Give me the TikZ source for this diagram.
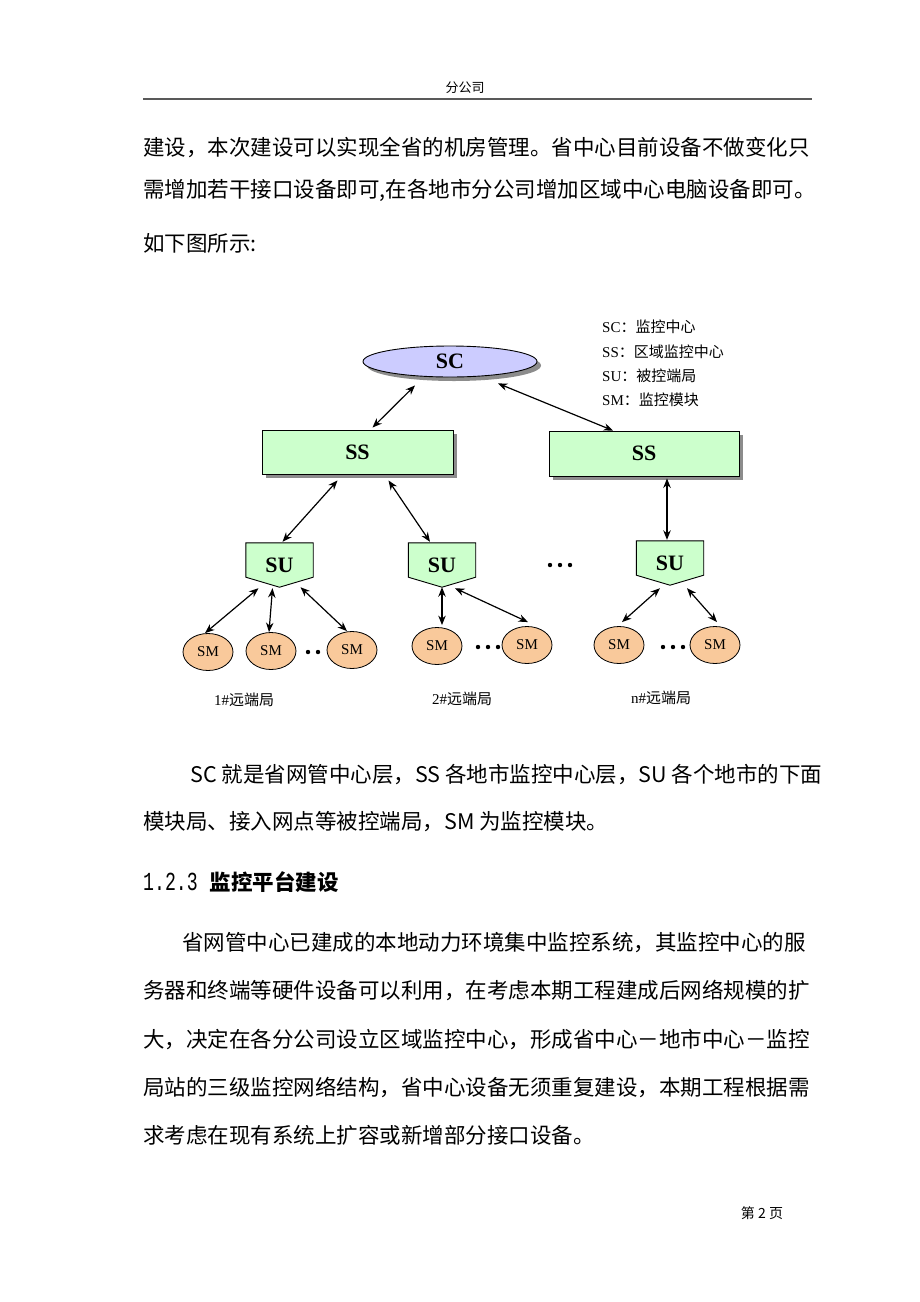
\documentclass[tikz,border=0pt]{standalone}
\usepackage{fontspec}
\setmainfont{Liberation Serif}
\newfontfamily\cjk{Noto Sans CJK SC}
\newfontfamily\monof{Liberation Mono}
\usepackage{xcolor}
\usetikzlibrary{shapes.geometric,shadows,arrows.meta,backgrounds}
\definecolor{scblue}{HTML}{CCCCFF}
\definecolor{ssgreen}{HTML}{CCFFCC}
\definecolor{smorange}{HTML}{F9C99B}
\definecolor{shadowgray}{HTML}{8C8C8C}
\tikzset{
	txt/.style={anchor=west,inner sep=0pt,font=\cjk\fontsize{21.5}{21.5}\selectfont},
	shade box/.style={drop shadow={shadow xshift=4pt,shadow yshift=-4pt,fill=shadowgray,opacity=1}},
	scnode/.style={ellipse,draw,line width=0.9pt,fill=scblue,inner sep=0pt,minimum width=174pt,minimum height=31pt,shade box,font=\fontsize{22}{22}\selectfont\bfseries},
	ssbox/.style={rectangle,draw,line width=0.9pt,fill=ssgreen,inner sep=0pt,minimum width=191pt,minimum height=44pt,shade box,font=\fontsize{22}{22}\selectfont\bfseries},
	sunode/.style={inner sep=0pt,minimum width=67pt,minimum height=44pt,font=\fontsize{22}{22}\selectfont\bfseries},
	smnode/.style={ellipse,draw,line width=0.8pt,fill=smorange,inner sep=0pt,minimum width=50pt,minimum height=37pt,font=\fontsize{15}{15}\selectfont},
	legend/.style={anchor=west,inner sep=0pt,font=\fontsize{15}{15}\selectfont},
	lbl/.style={inner sep=0pt,font=\fontsize{15}{15}\selectfont},
	link/.style={{Stealth[length=9.5pt,width=7.5pt]}-{Stealth[length=9.5pt,width=7.5pt]},line width=1.2pt}
}
\begin{document}
\begin{tikzpicture}[x=1pt,y=-1pt]
	\useasboundingbox (0,0) rectangle (920,1302);
	% page head
	\node[font=\cjk\fontsize{13}{13}\selectfont] (head) at (465,88) {分公司};
	\draw[line width=1.6pt,black!65] (143,99) -- (812,99);
	% text above the figure
	\node[txt] (l1) at (143,147) {建设，本次建设可以实现全省的机房管理。省中心目前设备不做变化只};
	\node[txt] (l2) at (143,190) {需增加若干接口设备即可,在各地市分公司增加区域中心电脑设备即可。};
	\node[txt] (l3) at (143,243) {如下图所示:};
	% legend
	\node[legend] (lg1) at (602,327) {SC{\cjk ：监控中心}};
	\node[legend] (lg2) at (602,352) {SS{\cjk ：区域监控中心}};
	\node[legend] (lg3) at (602,376) {SU{\cjk ：被控端局}};
	\node[legend] (lg4) at (602,400) {SM{\cjk ：监控模块}};
	% levels
	\node[scnode] (sc) at (450,361.5) {SC};
	\node[ssbox] (ssl) at (357.5,452) {SS};
	\node[ssbox,minimum width=190pt,minimum height=45pt] (ssr) at (644,453.5) {SS};
	\node[sunode] (sua) at (279.5,565) {SU};
	\node[sunode] (sub) at (442,565) {SU};
	\node[sunode] (suc) at (670,563) {SU};
	\begin{pgfonlayer}{background}
		\fill[white] (0,0) rectangle (920,1302);
		\foreach \n in {sua,sub,suc} {
			\fill[shadowgray,shift={(4pt,-4pt)}] (\n.north west) -- (\n.north east) -- ([yshift=10pt]\n.south east) -- (\n.south) -- ([yshift=10pt]\n.south west) -- cycle;
			\draw[line width=0.9pt,fill=ssgreen] (\n.north west) -- (\n.north east) -- ([yshift=10pt]\n.south east) -- (\n.south) -- ([yshift=10pt]\n.south west) -- cycle;
		}
	\end{pgfonlayer}
	\node[smnode] (sm1) at (208,652) {SM};
	\node[smnode] (sm2) at (271,651) {SM};
	\node[smnode] (sm3) at (352,650) {SM};
	\node[smnode] (sm4) at (437,646) {SM};
	\node[smnode] (sm5) at (527,645) {SM};
	\node[smnode] (sm6) at (619,645) {SM};
	\node[smnode] (sm7) at (715,645) {SM};
	\foreach \x in {308,318} \fill (\x,652) circle (2.2pt);
	\foreach \x in {478,488,498} \fill (\x,647) circle (2.2pt);
	\foreach \x in {663,673,683} \fill (\x,647) circle (2.2pt);
	\foreach \x in {550,560,570} \fill (\x,565) circle (2.2pt);
	% links
	\draw[link] ([xshift=-35pt,yshift=-8pt]sc.south) -- ([xshift=15pt,yshift=2pt]ssl.north);
	\draw[link] ([xshift=48pt,yshift=-6pt]sc.south) -- ([xshift=-31pt]ssr.north);
	\draw[link] ([xshift=-20pt,yshift=-6pt]ssl.south) -- ([xshift=3pt,yshift=1pt]sua.north);
	\draw[link] ([xshift=31pt,yshift=-6pt]ssl.south) -- ([xshift=-12pt,yshift=1pt]sub.north);
	\draw[link] ([xshift=23pt,yshift=-2pt]ssr.south) -- ([xshift=-3pt,yshift=1pt]suc.north);
	\draw[link] ([xshift=-21pt,yshift=-1pt]sua.south) -- ([xshift=-3pt]sm1.north);
	\draw[link] ([xshift=-7pt,yshift=-1pt]sua.south) -- ([xshift=-2pt]sm2.north);
	\draw[link] ([xshift=21pt]sua.south) -- ([xshift=-5pt]sm3.north);
	\draw[link] (sub.south) -- ([xshift=5pt,yshift=2pt]sm4.north);
	\draw[link] ([xshift=13pt,yshift=-1pt]sub.south) -- ([xshift=1pt,yshift=4pt]sm5.north);
	\draw[link] ([xshift=-10pt,yshift=-3pt]suc.south) -- ([xshift=3pt,yshift=4pt]sm6.north);
	\draw[link] ([xshift=17pt,yshift=-3pt]suc.south) -- ([xshift=2pt,yshift=4pt]sm7.north);
	% station labels
	\node[lbl] (st1) at (244,700) {1\#{\cjk 远端局}};
	\node[lbl] (st2) at (462,699) {2\#{\cjk 远端局}};
	\node[lbl] (st3) at (661,698) {n\#{\cjk 远端局}};
	% text below the figure
	\node[txt] (p1) at (190,775) {SC 就是省网管中心层，SS 各地市监控中心层，SU 各个地市的下面};
	\node[txt] (p2) at (143,822) {模块局、接入网点等被控端局，SM 为监控模块。};
	\node[txt] (sec) at (143,882) {\scalebox{0.7}[1]{\monof\fontsize{26}{26}\selectfont 1.2.3}\hspace{12pt}{\bfseries 监控平台建设}};
	\node[txt] (q1) at (182,943) {省网管中心已建成的本地动力环境集中监控系统，其监控中心的服};
	\node[txt] (q2) at (143,990) {务器和终端等硬件设备可以利用，在考虑本期工程建成后网络规模的扩};
	\node[txt] (q3) at (143,1040) {大，决定在各分公司设立区域监控中心，形成省中心－地市中心－监控};
	\node[txt] (q4) at (143,1087) {局站的三级监控网络结构，省中心设备无须重复建设，本期工程根据需};
	\node[txt] (q5) at (143,1135) {求考虑在现有系统上扩容或新增部分接口设备。};
	% page foot
	\node[font=\cjk\fontsize{14}{14}\selectfont] (foot) at (762,1213) {第 2 页};
\end{tikzpicture}
\end{document}
